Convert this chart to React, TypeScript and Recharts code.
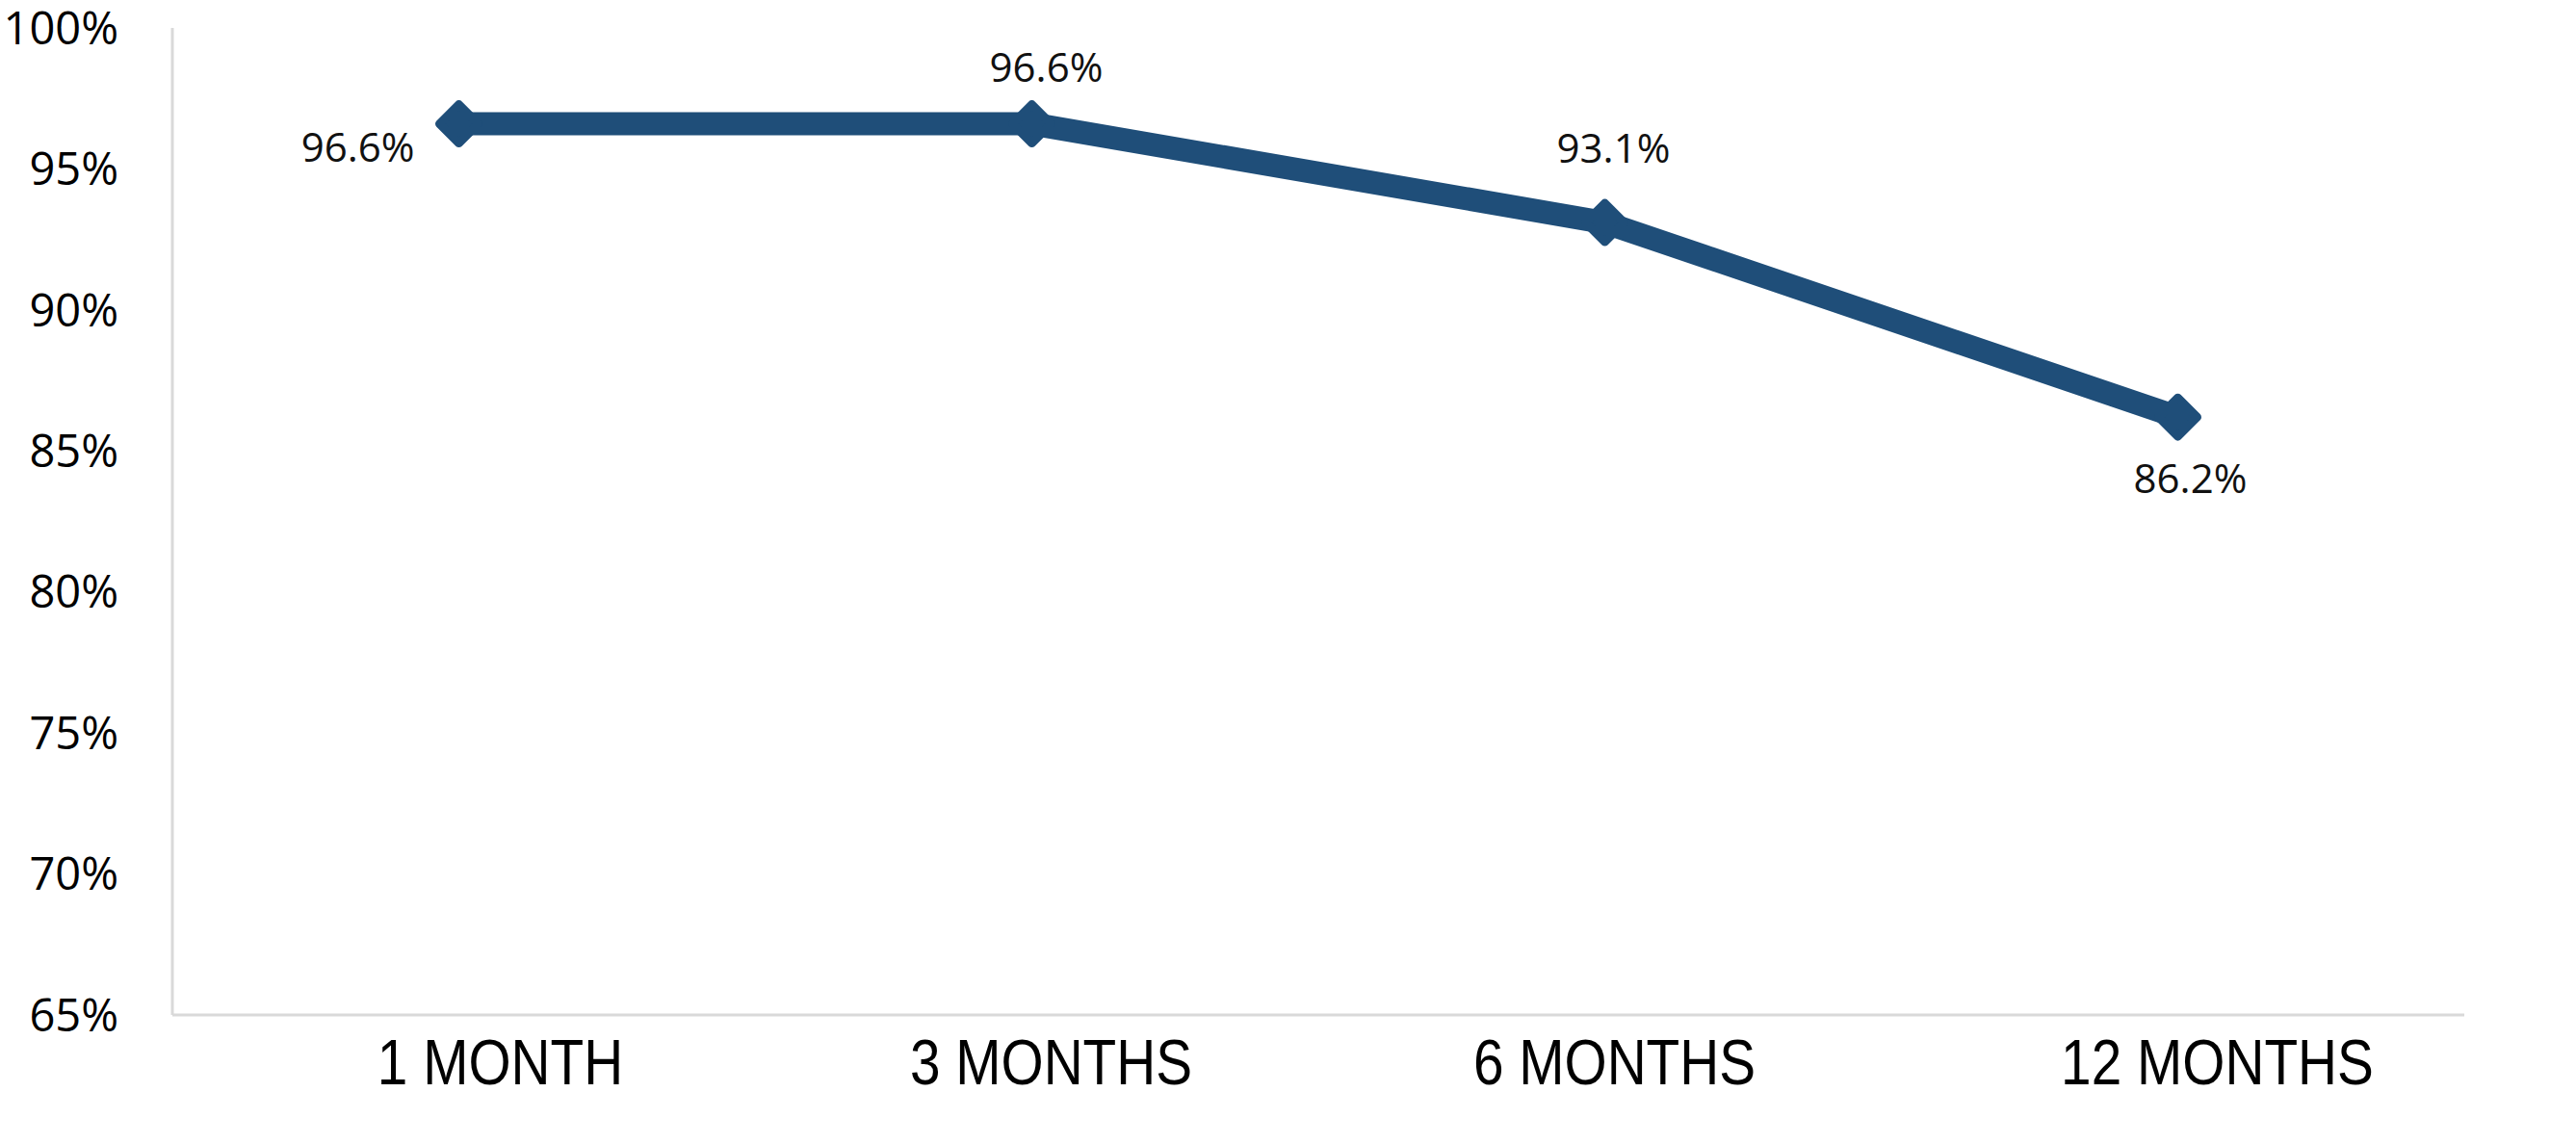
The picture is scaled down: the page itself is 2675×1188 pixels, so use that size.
import { ComposedChart, Line, XAxis, YAxis, LabelList } from 'recharts';

// follow-up intervals
const periods = ['1 MONTH', '3 MONTHS', '6 MONTHS', '12 MONTHS'];
// rate at each interval (%)
const rates = [96.6, 96.6, 93.1, 86.2];
// y-axis ticks
const yTicks = [65, 70, 75, 80, 85, 90, 95, 100];

const data = periods.map((period, i) => ({ period, rate: rates[i] }));

const LINE_COLOR = '#1f4e79';
const AXIS_COLOR = '#d9d9d9';
const LABEL_FONT = '"Open Sans", "Noto Sans", sans-serif';

// where each data label sits relative to its point (dx, dy, anchor)
const LABEL_OFFSETS: [number, number, 'start' | 'middle' | 'end'][] = [
    [-46, 23, 'end'],
    [15, -60, 'middle'],
    [9, -79, 'middle'],
    [13, 62, 'middle'],
];

// category labels are not quite centred under their points in the original
const TICK_SHIFT = [43, 20, 10, 41];

function Diamond(props: any) {
    const { cx, cy } = props;
    if (cx == null || cy == null) return null;
    const r = 20;
    return (
        <path
            d={`M${cx},${cy - r} L${cx + r},${cy} L${cx},${cy + r} L${cx - r},${cy} Z`}
            fill={LINE_COLOR}
            stroke={LINE_COLOR}
            strokeWidth={9}
            strokeLinejoin="round"
        />
    );
}

function RateLabel(props: any) {
    const { x, y, value, index } = props;
    const [dx, dy, anchor] = LABEL_OFFSETS[index] || [0, -40, 'middle'];
    return (
        <text
            x={x + dx}
            y={y + dy}
            textAnchor={anchor}
            dominantBaseline="central"
            fontFamily={LABEL_FONT}
            fontSize={42}
            fill="#111"
        >
            {`${value.toFixed(1)}%`}
        </text>
    );
}

function PeriodTick(props: any) {
    const { x, y, payload, index } = props;
    const shift = TICK_SHIFT[index] || 0;
    return (
        <g transform={`translate(${x + shift},${y}) scale(0.86,1)`}>
            <text
                x={0}
                y={0}
                dy="0.72em"
                textAnchor="middle"
                fontFamily='"Liberation Sans", Arial, sans-serif'
                fontSize={66}
                fill="#000"
            >
                {payload.value}
            </text>
        </g>
    );
}

export default function App() {
    return (
        <div style={{ position: 'absolute', left: 0, top: 0, width: 2675, height: 1188, background: '#fff' }}>
            <ComposedChart
                width={2675}
                height={1188}
                data={data}
                margin={{ top: 29, right: 116, bottom: 0, left: 0 }}
            >
                <XAxis
                    dataKey="period"
                    scale="band"
                    height={134}
                    axisLine={{ stroke: AXIS_COLOR, strokeWidth: 3 }}
                    tickLine={false}
                    tickSize={0}
                    tickMargin={24}
                    tick={<PeriodTick />}
                />
                <YAxis
                    width={179}
                    domain={[65, 100]}
                    ticks={yTicks}
                    interval={0}
                    axisLine={{ stroke: AXIS_COLOR, strokeWidth: 3 }}
                    tickLine={false}
                    tickSize={0}
                    tickMargin={56}
                    tickFormatter={(v: number) => `${v}%`}
                    tick={{ fill: '#000', fontSize: 47, fontFamily: LABEL_FONT }}
                />
                <Line
                    type="linear"
                    dataKey="rate"
                    stroke={LINE_COLOR}
                    strokeWidth={24}
                    strokeLinejoin="round"
                    dot={<Diamond />}
                    activeDot={false}
                    isAnimationActive={false}
                >
                    <LabelList dataKey="rate" content={<RateLabel />} />
                </Line>
            </ComposedChart>
        </div>
    );
}
